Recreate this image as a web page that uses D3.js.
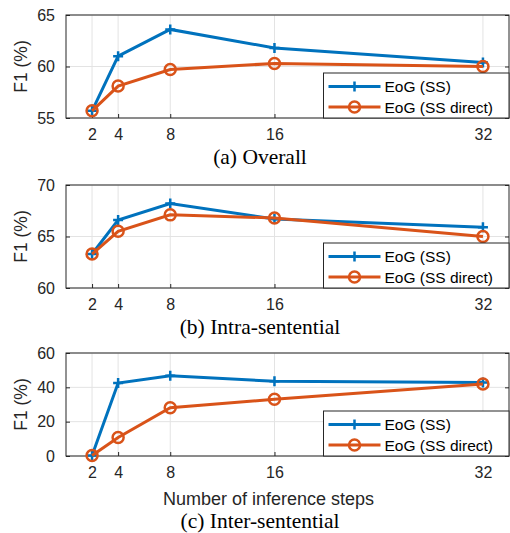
<!DOCTYPE html>
<html lang="en">
<head>
<meta charset="UTF-8">
<title>EoG inference steps</title>
<script src="https://cdn.jsdelivr.net/npm/d3@7"></script>
<style>
  body { margin: 0; background: #fff; }
  svg text { font-family: "Liberation Sans", Arial, sans-serif; }
</style>
</head>
<body>
<script>
// data
var steps = [2, 4, 8, 16, 32];
var seriesNames = ["EoG (SS)", "EoG (SS direct)"];

var overallSS       = [55.7, 61.0, 63.6, 61.8, 60.4];
var overallDirect   = [55.7, 58.1, 59.7, 60.3, 60.0];
var intraSS         = [63.3, 66.6, 68.2, 66.7, 65.9];
var intraDirect     = [63.3, 65.5, 67.1, 66.8, 65.0];
var interSS         = [0.3, 42.5, 46.8, 43.5, 42.8];
var interDirect     = [0.3, 10.8, 28.1, 33.0, 42.0];

var panelTitles = ["(a) Overall", "(b) Intra-sentential", "(c) Inter-sentential"];
var yDomains = [[55, 65], [60, 70], [0, 60]];
var yTicks = [[55, 60, 65], [60, 65, 70], [0, 20, 40, 60]];

var colors = ["#0072BD", "#D95319"];

var W = 510, H = 533;
var left = 66, right = 509;
var tops = [15, 185, 353];
var plotH = 103;
var capY = [163.5, 333.5, 528.3];

var svg = d3.select("body").append("svg")
    .attr("width", W).attr("height", H);

var x = d3.scaleLinear().domain([0, 34]).range([left, right]);

var panels = [
  {title: panelTitles[0], a: overallSS, b: overallDirect},
  {title: panelTitles[1], a: intraSS, b: intraDirect},
  {title: panelTitles[2], a: interSS, b: interDirect}
];

panels.forEach(function(p, i) {
  var top = tops[i], bottom = top + plotH;
  var y = d3.scaleLinear().domain(yDomains[i]).range([bottom, top]);
  var g = svg.append("g");

  // grid
  g.selectAll(".gx").data(steps).enter().append("line")
    .attr("x1", d => x(d)).attr("x2", d => x(d))
    .attr("y1", top).attr("y2", bottom)
    .attr("stroke", "#e3e3e3").attr("stroke-width", 1);
  g.selectAll(".gy").data(yTicks[i]).enter().append("line")
    .attr("x1", left).attr("x2", right)
    .attr("y1", d => y(d)).attr("y2", d => y(d))
    .attr("stroke", "#e3e3e3").attr("stroke-width", 1);

  // axes, ticks pointing inward
  var xAxis = d3.axisBottom(x).tickValues(steps).tickSizeInner(-4).tickSizeOuter(0).tickPadding(11);
  var yAxis = d3.axisLeft(y).tickValues(yTicks[i]).tickSizeInner(-4).tickSizeOuter(0).tickPadding(11);
  var ax = g.append("g").attr("transform", "translate(0," + bottom + ")").call(xAxis);
  var ay = g.append("g").attr("transform", "translate(" + left + ",0)").call(yAxis);
  var ar = g.append("g").attr("transform", "translate(" + right + ",0)")
    .call(d3.axisRight(y).tickValues(yTicks[i]).tickSizeInner(-4).tickSizeOuter(0).tickFormat(""));
  [ax, ay, ar].forEach(function(a) {
    a.select(".domain").remove();
    a.selectAll("line").attr("stroke", "#262626");
    a.selectAll("text").attr("font-size", 16).attr("fill", "#262626")
      .attr("font-family", "Liberation Sans, Arial, sans-serif");
  });

  // box
  g.append("rect").attr("x", left).attr("y", top)
    .attr("width", right - left).attr("height", plotH)
    .attr("fill", "none").attr("stroke", "#262626").attr("stroke-width", 1);

  // y label
  g.append("text")
    .attr("transform", "translate(27," + (top + plotH / 2) + ") rotate(-90)")
    .attr("text-anchor", "middle").attr("font-size", 17.5).attr("fill", "#262626")
    .text("F1 (%)");

  var line = d3.line().x((d, k) => x(steps[k])).y(d => y(d));

  [p.a, p.b].forEach(function(vals, s) {
    g.append("path").datum(vals).attr("d", line)
      .attr("fill", "none").attr("stroke", colors[s]).attr("stroke-width", 3);
    if (s === 0) {
      g.selectAll(".plus" + i).data(vals).enter().append("path")
        .attr("transform", (d, k) => "translate(" + x(steps[k]) + "," + y(d) + ")")
        .attr("d", "M-5,0H5M0,-5V5")
        .attr("stroke", colors[0]).attr("stroke-width", 2.5).attr("fill", "none");
    } else {
      g.selectAll(".circ" + i).data(vals).enter().append("circle")
        .attr("cx", (d, k) => x(steps[k])).attr("cy", d => y(d)).attr("r", 5.5)
        .attr("fill", "none").attr("stroke", colors[1]).attr("stroke-width", 2.5);
    }
  });

  // legend
  var lx = 323.5, ly = bottom - 45;
  var lg = g.append("g");
  lg.append("rect").attr("x", lx).attr("y", ly).attr("width", right - lx).attr("height", 45)
    .attr("fill", "#fff").attr("stroke", "#262626").attr("stroke-width", 1);
  seriesNames.forEach(function(name, s) {
    var cy = ly + 13.5 + s * 20.5;
    lg.append("line").attr("x1", lx + 5).attr("x2", lx + 57).attr("y1", cy).attr("y2", cy)
      .attr("stroke", colors[s]).attr("stroke-width", 3);
    if (s === 0) {
      lg.append("path").attr("transform", "translate(" + (lx + 31) + "," + cy + ")")
        .attr("d", "M-5,0H5M0,-5V5").attr("stroke", colors[0]).attr("stroke-width", 2.5);
    } else {
      lg.append("circle").attr("cx", lx + 31).attr("cy", cy).attr("r", 5.5)
        .attr("fill", "none").attr("stroke", colors[1]).attr("stroke-width", 2.5);
    }
    lg.append("text").attr("x", lx + 61).attr("y", cy + 5.5)
      .attr("font-size", 15.5).attr("fill", "#000").text(name);
  });

  // panel caption
  g.append("text").attr("x", 260).attr("y", capY[i]).attr("text-anchor", "middle")
    .attr("font-size", 21.5).style("font-family", "Liberation Serif, Times New Roman, serif")
    .attr("fill", "#000").text(p.title);
});

svg.append("text").attr("x", 268.5).attr("y", 505).attr("text-anchor", "middle")
  .attr("font-size", 18).attr("fill", "#262626").text("Number of inference steps");
</script>
</body>
</html>
